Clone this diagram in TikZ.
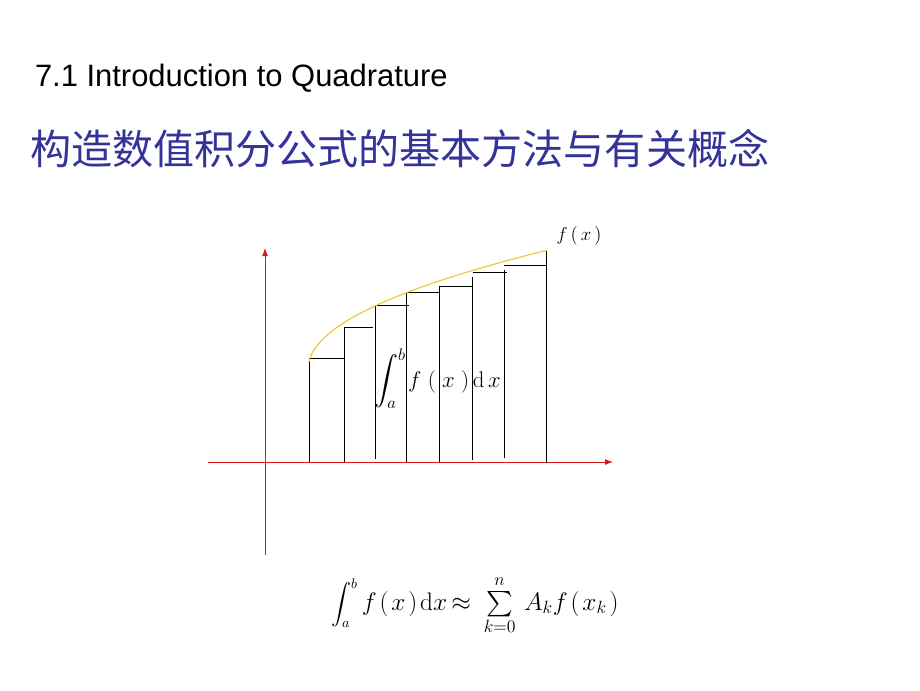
\RequirePackage{fix-cm}
\documentclass[tikz,border=0pt]{standalone}
\usepackage{exscale}
\usepackage[no-math]{fontspec}
\setmainfont{Liberation Sans}
\newfontfamily\cjkfont{Noto Sans CJK SC}
\usetikzlibrary{arrows.meta}
\DeclareFontShape{OMX}{cmex}{m}{n}{<->cmex10}{}
\definecolor{axisred}{RGB}{215,25,25}
\definecolor{curveyellow}{RGB}{238,196,40}
\definecolor{titleblue}{RGB}{51,51,153}
\newcommand\fsz[1]{\fontsize{#1}{#1}\selectfont}
\tikzset{
  axis/.style={draw=axisred, line width=0.7pt, -{Latex[length=6pt,width=4.5pt]}},
  bar/.style={draw=black, line width=0.6pt},
  fcurve/.style={draw=curveyellow, line width=0.8pt},
  txt/.style={inner sep=0pt, outer sep=0pt},
}
\begin{document}
\begin{tikzpicture}[x=0.75pt,y=-0.75pt]
\useasboundingbox (0,0) rectangle (920,690);
\fill[white] (0,0) rectangle (920,690);

% titles
\node[txt, anchor=base west, font=\fsz{23.2pt}] (t1) at (35,86) {7.1 Introduction to Quadrature};
\node[txt, anchor=west, text=titleblue, font=\fsz{30.8pt}\cjkfont] (t2) at (30,149) {构造数值积分公式的基本方法与有关概念};

% axes
\coordinate (ya) at (265,555);
\coordinate (yb) at (265,248);
\coordinate (xa) at (208,462);
\coordinate (xb) at (613,462);
\draw[axis] (ya) -- (yb);
\draw[axis] (xa) -- (xb);

% bars: verticals
\foreach \x/\t/\b in {309.3/358/462, 344/327.3/462, 375.3/305.3/459, 406.7/291.5/462, 439.3/286.3/462, 472.7/276.5/460, 504.3/270/458, 546.7/250.5/463}{
  \draw[bar] (\x,\t) -- (\x,\b);
}
% bars: tops
\foreach \a/\c/\y in {309.3/344/358, 344/373.3/327.3, 375.3/409.3/305.3, 406.7/439.3/292.7, 439.3/473.3/286.3, 472.7/507.3/272.7, 504.3/546.7/265}{
  \draw[bar] (\a,\y) -- (\c,\y);
}

% curve
\draw[fcurve] plot[domain=308.6:546.7, samples=80, smooth] (\x,{462-93.4-7.65*sqrt(\x-308)});

% labels
\node[txt, font=\fsz{14pt}] (fx) at (579,236) {$f\mkern3mu(\mkern3mu x\mkern3mu)$};
\node[txt, anchor=base west] (integ) at (374,387) {{\fsz{18pt}$\displaystyle\int_a^b$}{\fsz{17pt}$\mkern2mu f\mkern5mu(\mkern5mu x\mkern5mu)\mkern3mu\mathrm{d}\mkern3mu x$}};
\node[txt, anchor=base west] (quad) at (331,610) {{\fsz{15pt}$\displaystyle\int_a^b$}{\fsz{19pt}$\mkern3mu f\mkern2mu(\mkern2mu x\mkern2mu)\mkern2mu\mathrm{d}x\mkern-2mu\approx\mkern4mu \textstyle\sum\limits_{k=0}^{n}\mkern3mu A_k f\mkern2mu(\mkern2mu x_k\mkern2mu)$}};
\end{tikzpicture}
\end{document}
